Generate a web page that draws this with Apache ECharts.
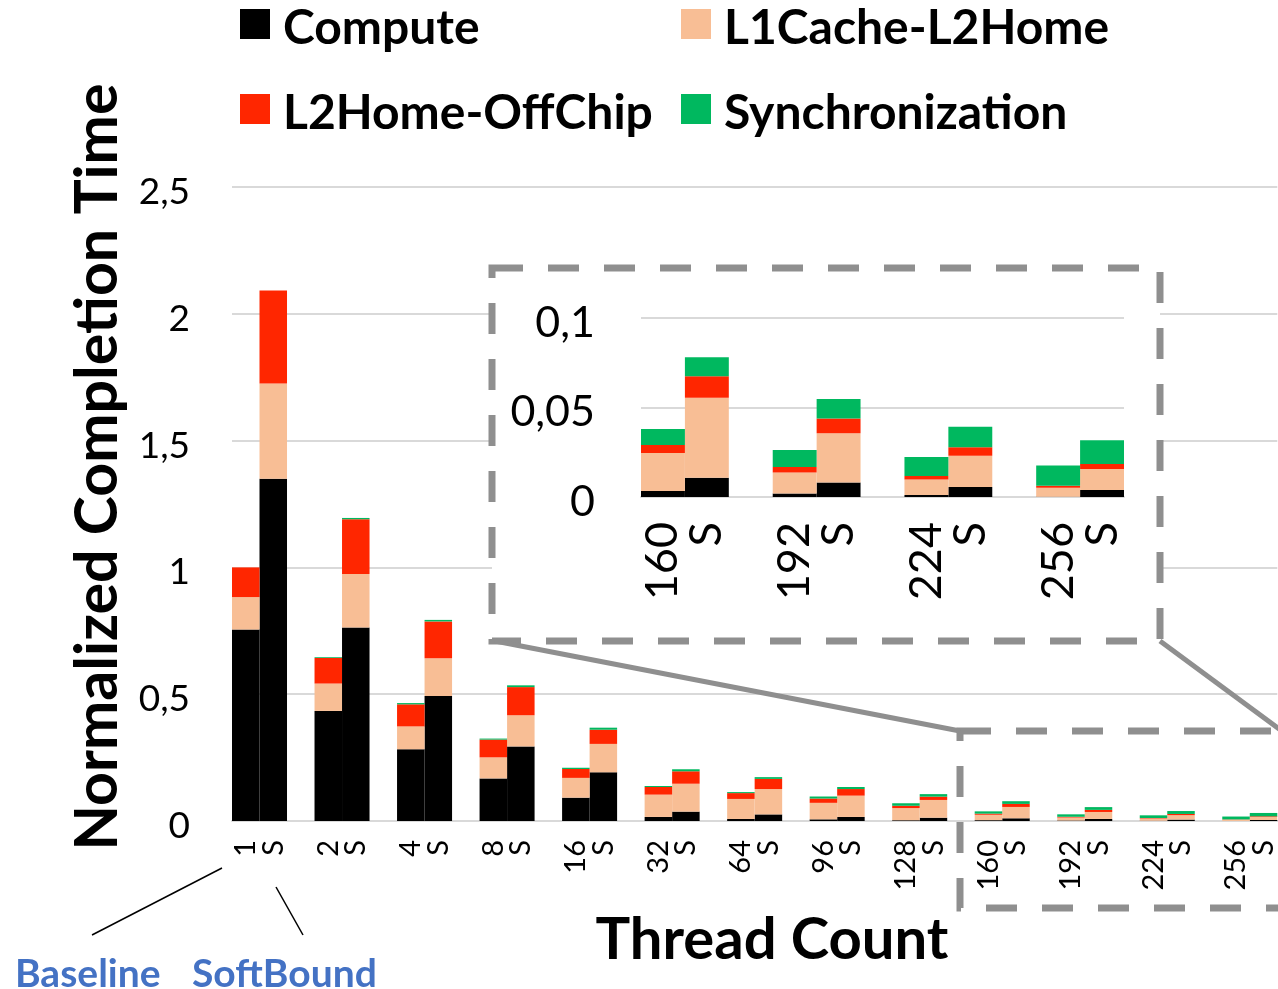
<!DOCTYPE html>
<html>
<head>
<meta charset="utf-8">
<script src="https://cdn.jsdelivr.net/npm/echarts@6/dist/echarts.min.js"></script>
<style>
html,body{margin:0;padding:0;background:#fff;}
#chart{width:1278px;height:989px;}
</style>
</head>
<body>
<div id="chart"></div>
<script>
// ---- data (segment heights, not cumulative) ----
const threads = ['1','2','4','8','16','32','64','96','128','160','192','224','256'];
const softLabel = 'S';

const baseCompute = [0.755, 0.434, 0.283, 0.168, 0.092, 0.016, 0.008, 0.0066, 0.003, 0.0033, 0.002, 0.0011, 0.0002];
const baseL1L2    = [0.128, 0.108, 0.090, 0.083, 0.078, 0.088, 0.079, 0.065, 0.048, 0.0213, 0.0117, 0.0087, 0.005];
const baseL2Off   = [0.117, 0.101, 0.087, 0.070, 0.035, 0.030, 0.023, 0.017, 0.009, 0.0044, 0.003, 0.0019, 0.0011];
const baseSync    = [0.000, 0.003, 0.005, 0.004, 0.005, 0.004, 0.004, 0.008, 0.010, 0.009, 0.0096, 0.0107, 0.0113];

const softCompute = [1.350, 0.763, 0.493, 0.294, 0.192, 0.037, 0.026, 0.016, 0.013, 0.0107, 0.0081, 0.0056, 0.0039];
const softL1L2    = [0.375, 0.211, 0.149, 0.123, 0.112, 0.110, 0.100, 0.084, 0.070, 0.0447, 0.0275, 0.0174, 0.0118];
const softL2Off   = [0.367, 0.216, 0.145, 0.111, 0.056, 0.049, 0.040, 0.026, 0.013, 0.012, 0.0083, 0.0048, 0.0028];
const softSync    = [0.000, 0.005, 0.006, 0.007, 0.008, 0.008, 0.007, 0.008, 0.010, 0.0107, 0.0109, 0.0115, 0.0132];

const seriesNames = ['Compute', 'L1Cache-L2Home', 'L2Home-OffChip', 'Synchronization'];
const seriesColors = ['#000000', '#F8BE95', '#FF2600', '#00B85F'];

const mainTicks = [0, 0.5, 1, 1.5, 2, 2.5];
const insetTicks = [0, 0.05, 0.1];
const insetFrom = 9; // 160 threads onward

// ---- build interleaved categories / values ----
function buildCats(from, to) {
  const out = [];
  for (let i = from; i < to; i++) {
    out.push(threads[i], softLabel);
    if (i < to - 1) out.push('');
  }
  return out;
}
function buildVals(b, s, from, to) {
  const out = [];
  for (let i = from; i < to; i++) {
    out.push(b[i], s[i]);
    if (i < to - 1) out.push(null);
  }
  return out;
}
const baseSets = [baseCompute, baseL1L2, baseL2Off, baseSync];
const softSets = [softCompute, softL1L2, softL2Off, softSync];
const N = threads.length;
const mainCats = buildCats(0, N);
const insetCats = buildCats(insetFrom, N);

const commaFmt = v => '{a|' + String(v).replace('.', ',') + '}';
const FONT = 'Lato';

const series = [];
for (let k = 0; k < 4; k++) {
  series.push({
    name: seriesNames[k], type: 'bar', stack: 'main',
    xAxisIndex: 0, yAxisIndex: 0,
    barCategoryGap: '0%', z: 2,
    itemStyle: { color: seriesColors[k] },
    data: buildVals(baseSets[k], softSets[k], 0, N)
  });
}
for (let k = 0; k < 4; k++) {
  series.push({
    name: seriesNames[k], type: 'bar', stack: 'inset',
    xAxisIndex: 1, yAxisIndex: 1,
    barCategoryGap: '0%', z: 6,
    itemStyle: { color: seriesColors[k] },
    data: buildVals(baseSets[k], softSets[k], insetFrom, N)
  });
}

const chart = echarts.init(document.getElementById('chart'), null, { renderer: 'canvas' });
const gray = '#8F8F8F';
const legendText = {
  fontFamily: FONT, fontWeight: 'bold', fontSize: 48, color: '#000',
  rich: { a: { fontFamily: FONT, fontWeight: 'bold', fontSize: 48, color: '#000', lineHeight: 50, padding: [10, 0, 0, 8] } }
};
const legendFmt = name => '{a|' + name + '}';
const option = {
  animation: false,
  backgroundColor: '#ffffff',
  textStyle: { fontFamily: FONT },
  legend: [
    {
      data: ['Compute', 'L2Home-OffChip'], orient: 'vertical',
      left: 240, top: -5, itemWidth: 30, itemHeight: 30, itemGap: 27, padding: 0,
      icon: 'rect', textStyle: legendText, formatter: legendFmt
    },
    {
      data: ['L1Cache-L2Home', 'Synchronization'], orient: 'vertical',
      left: 681, top: -5, itemWidth: 30, itemHeight: 30, itemGap: 27, padding: 0,
      icon: 'rect', textStyle: legendText, formatter: legendFmt
    }
  ],
  grid: [
    { left: 232, right: -2, top: 187, bottom: 168 },
    { left: 641, right: 154, top: 318, bottom: 492 }
  ],
  xAxis: [
    {
      type: 'category', gridIndex: 0, data: mainCats,
      axisTick: { show: false },
      axisLine: { lineStyle: { color: '#D9D9D9', width: 2 } },
      axisLabel: { interval: 0, rotate: 90, fontSize: 29, color: '#000', margin: 19, fontFamily: FONT }
    },
    {
      type: 'category', gridIndex: 1, data: insetCats, z: 5,
      axisTick: { show: false },
      axisLine: { lineStyle: { color: '#D9D9D9', width: 2 } },
      axisLabel: { interval: 0, rotate: 90, fontSize: 45, color: '#000', margin: 25, fontFamily: FONT }
    }
  ],
  yAxis: [
    {
      type: 'value', gridIndex: 0, min: 0, max: 2.5, interval: 0.5,
      axisLine: { show: false }, axisTick: { show: false },
      splitLine: { lineStyle: { color: '#D9D9D9', width: 2 } },
      axisLabel: { fontSize: 37, color: '#000', margin: 42, fontFamily: FONT, formatter: commaFmt,
        rich: { a: { fontSize: 37, fontFamily: FONT, color: '#000', padding: [10, 0, 0, 0] } } }
    },
    {
      type: 'value', gridIndex: 1, min: 0, max: 0.1, interval: 0.05, z: 5,
      axisLine: { show: false }, axisTick: { show: false },
      splitLine: { lineStyle: { color: '#D9D9D9', width: 2 } },
      axisLabel: { fontSize: 43, color: '#000', margin: 46, fontFamily: FONT, formatter: commaFmt,
        rich: { a: { fontSize: 43, fontFamily: FONT, color: '#000', padding: [10, 0, 0, 0] } } }
    }
  ],
  series: series,
  graphic: [
    { type: 'rect', z: 1, shape: { x: 492, y: 268, width: 668, height: 373 },
      style: { fill: '#ffffff', stroke: gray, lineWidth: 7, lineDash: [31, 25] } },
    { type: 'rect', z: 7, shape: { x: 960, y: 731, width: 360, height: 177 },
      style: { fill: null, stroke: gray, lineWidth: 7, lineDash: [31, 25] } },
    { type: 'line', z: 7, shape: { x1: 495, y1: 641, x2: 960, y2: 731 },
      style: { stroke: gray, lineWidth: 5 } },
    { type: 'line', z: 7, shape: { x1: 1160, y1: 641, x2: 1290, y2: 737 },
      style: { stroke: gray, lineWidth: 5 } },
    { type: 'line', z: 7, shape: { x1: 92, y1: 935, x2: 222, y2: 868 },
      style: { stroke: '#000', lineWidth: 1.5 } },
    { type: 'line', z: 7, shape: { x1: 276, y1: 887, x2: 303, y2: 935 },
      style: { stroke: '#000', lineWidth: 1.5 } },
    { type: 'text', z: 7, x: 15, y: 974,
      style: { text: 'Baseline', fill: '#4472C4', font: 'bold 39px Lato', textAlign: 'left', textVerticalAlign: 'middle' } },
    { type: 'text', z: 7, x: 192, y: 974,
      style: { text: 'SoftBound', fill: '#4472C4', font: 'bold 39px Lato', textAlign: 'left', textVerticalAlign: 'middle' } },
    { type: 'text', z: 7, x: 772, y: 940,
      style: { text: 'Thread Count', fill: '#000', font: 'bold 58px Lato', textAlign: 'center', textVerticalAlign: 'middle' } },
    { type: 'text', z: 7, x: 98, y: 467, rotation: Math.PI / 2,
      style: { text: 'Normalized Completion Time', fill: '#000', font: 'bold 59px Lato', textAlign: 'center', textVerticalAlign: 'middle' } }
  ]
};
chart.setOption(option);
</script>
</body>
</html>
